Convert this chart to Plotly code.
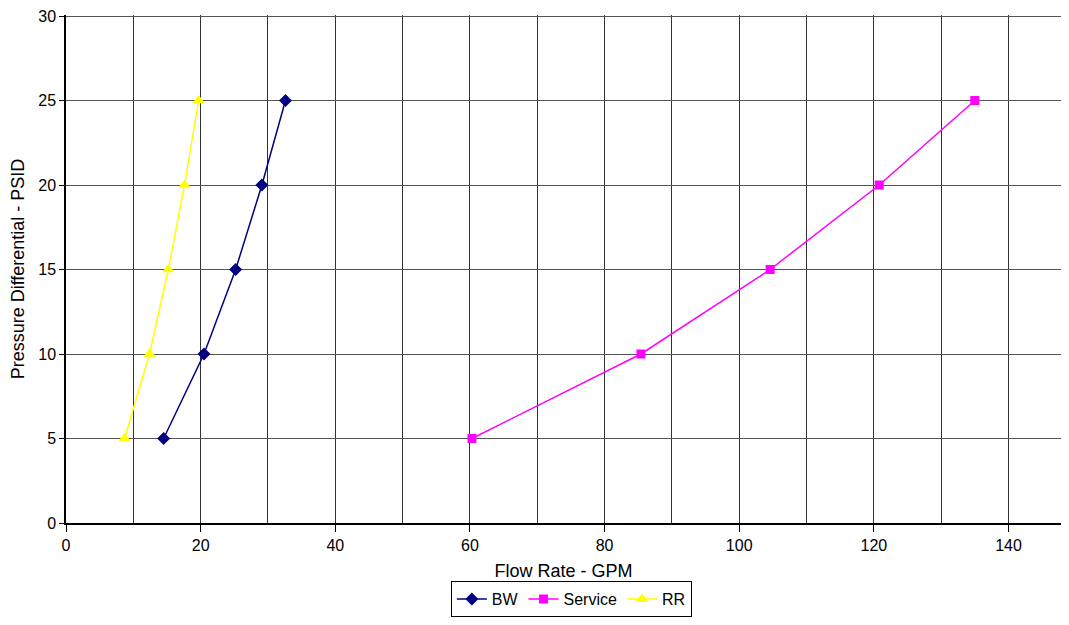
import plotly.graph_objects as go

# pressure levels (PSID) shared by every series
psid = [5, 10, 15, 20, 25]

# flow rates (GPM)
bw_gpm = [14.5, 20.5, 25.2, 29.1, 32.6]
service_gpm = [60.3, 85.4, 104.6, 120.8, 135.0]
rr_gpm = [8.7, 12.4, 15.2, 17.6, 19.7]

FONT = "Liberation Sans, Arial, sans-serif"

fig = go.Figure()
fig.add_trace(go.Scatter(
    x=bw_gpm, y=psid, name="BW", mode="lines+markers",
    line=dict(color="#000080", width=1.5),
    marker=dict(symbol="diamond", size=10, color="#000080"),
))
fig.add_trace(go.Scatter(
    x=service_gpm, y=psid, name="Service", mode="lines+markers",
    line=dict(color="#FF00FF", width=1.5),
    marker=dict(symbol="square", size=9, color="#FF00FF"),
))
fig.add_trace(go.Scatter(
    x=rr_gpm, y=psid, name="RR", mode="lines+markers",
    line=dict(color="#FFFF00", width=1.5),
    marker=dict(symbol="triangle-up", size=11, color="#FFFF00"),
))

# page body has an 8px margin, so the figure is sized to fit inside the window
fig.update_layout(
    width=1053,
    height=609,
    margin=dict(l=58, r=0, t=7, b=94),
    paper_bgcolor="white",
    plot_bgcolor="white",
    font=dict(family=FONT, size=15, color="black"),
    showlegend=True,
    legend=dict(
        orientation="h", xref="container", yref="container",
        x=0.535, xanchor="center", y=0.0, yanchor="bottom",
        bordercolor="black", borderwidth=1, font=dict(size=16),
        itemwidth=30, tracegroupgap=0,
    ),
    xaxis=dict(
        title=dict(text="Flow Rate - GPM", standoff=19),
        range=[0, 147.8], dtick=20, tick0=0,
        ticks="outside", ticklen=7, tickcolor="black",
        showgrid=True, gridcolor="#333333", gridwidth=1,
        minor=dict(dtick=10, showgrid=True, gridcolor="#333333", gridwidth=1),
        showline=True, linecolor="black", linewidth=1.5,
        zeroline=False, tickfont=dict(size=16), automargin=False,
    ),
    yaxis=dict(
        title=dict(text="Pressure Differential - PSID", standoff=10),
        range=[0, 30.06], dtick=5, tick0=0,
        ticks="outside", ticklen=5, tickcolor="black",
        showgrid=True, gridcolor="#555555", gridwidth=1,
        showline=True, linecolor="black", linewidth=1.5,
        zeroline=False, tickfont=dict(size=16), automargin=False,
        ticklabeloverflow="allow",
    ),
)

fig.write_html("out.html")
